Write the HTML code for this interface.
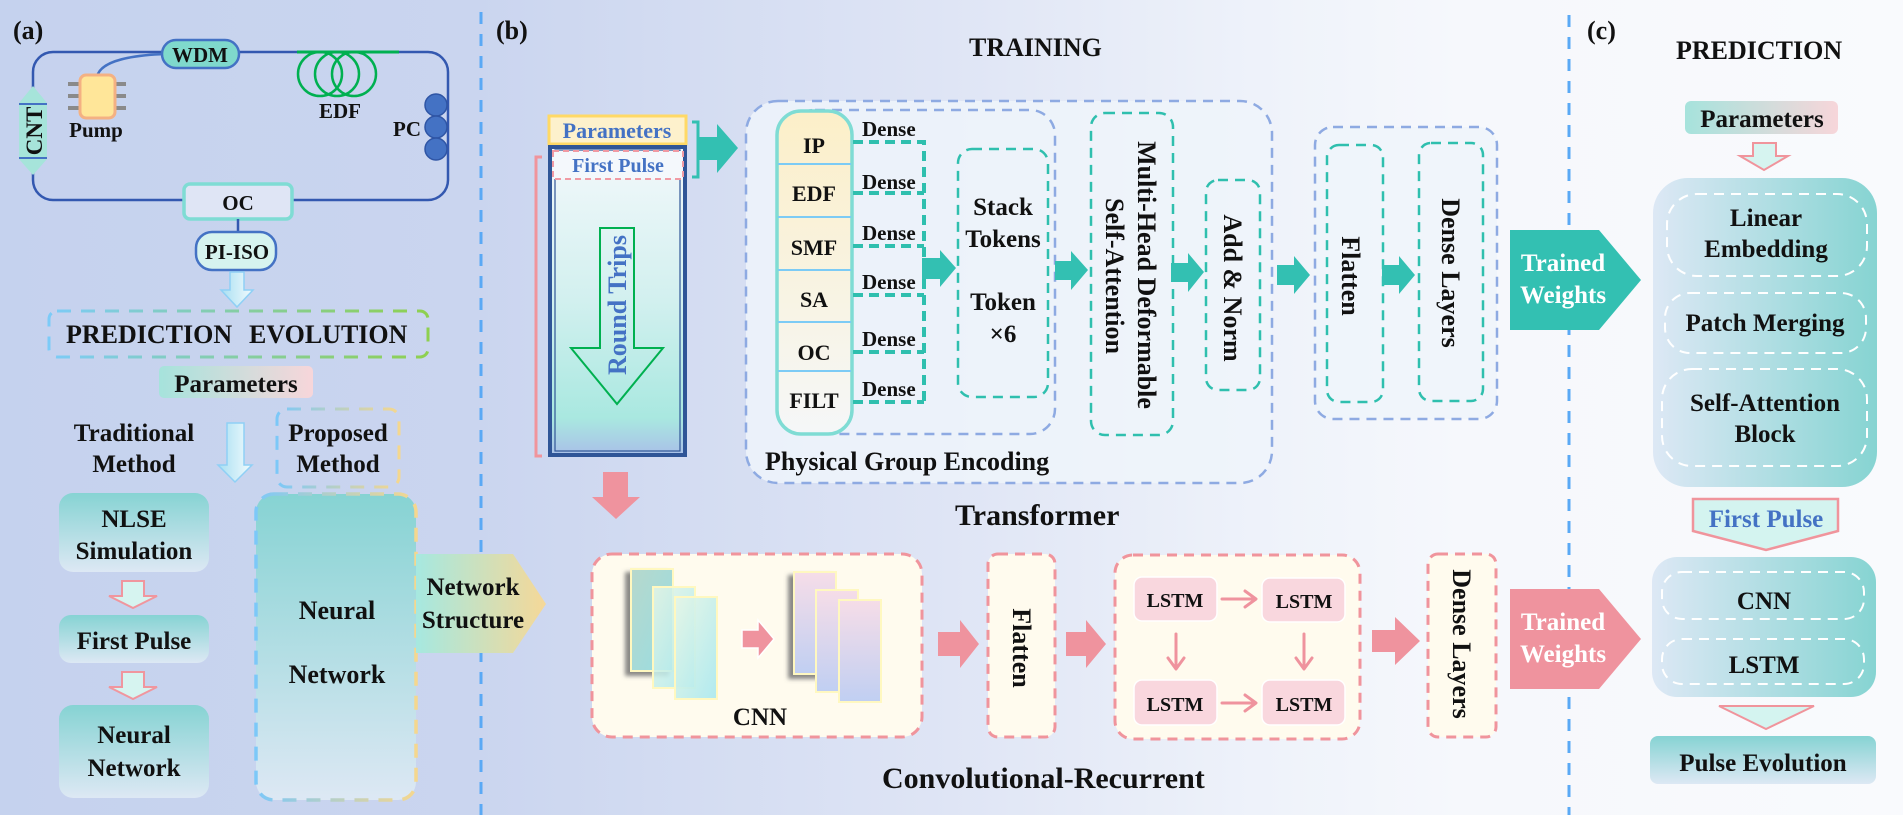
<!DOCTYPE html>
<html><head><meta charset="utf-8"><style>
html,body{margin:0;padding:0;width:1903px;height:815px;overflow:hidden;background:#dfe5f5;}
svg{display:block;}
text{font-family:"Liberation Serif","Times New Roman",serif;font-weight:bold;fill:#111;}
</style></head><body>
<svg width="1903" height="815" viewBox="0 0 1903 815" xmlns="http://www.w3.org/2000/svg">
<defs>
<linearGradient id="bg" x1="0" y1="0" x2="1" y2="0">
<stop offset="0" stop-color="#c5d2ee"/><stop offset="0.25" stop-color="#cad5ef"/><stop offset="0.5" stop-color="#dfe5f5"/><stop offset="0.66" stop-color="#eef2fa"/><stop offset="0.77" stop-color="#f6f8fc"/><stop offset="1" stop-color="#f9fafd"/>
</linearGradient>
<linearGradient id="tealV" x1="0" y1="0" x2="0" y2="1"><stop offset="0" stop-color="#86d3d3"/><stop offset="1" stop-color="#dde8f4"/></linearGradient>
<linearGradient id="tealH" x1="0" y1="0" x2="1" y2="0"><stop offset="0" stop-color="#dde8f5"/><stop offset="1" stop-color="#86d4d2"/></linearGradient>
<linearGradient id="paramG" x1="0" y1="0" x2="1" y2="0"><stop offset="0" stop-color="#a6e3dc"/><stop offset="1" stop-color="#f7d6da"/></linearGradient>
<linearGradient id="nsG" x1="0" y1="0" x2="1" y2="0"><stop offset="0" stop-color="#a6e8e0"/><stop offset="1" stop-color="#f5d898"/></linearGradient>
<linearGradient id="peStroke" x1="0" y1="0" x2="1" y2="0"><stop offset="0" stop-color="#7ccbf8"/><stop offset="1" stop-color="#8ed04f"/></linearGradient>
<linearGradient id="pmStroke" x1="0" y1="0" x2="1" y2="0"><stop offset="0" stop-color="#7cc8f8"/><stop offset="1" stop-color="#f5d78e"/></linearGradient>
<linearGradient id="downG" x1="0" y1="0" x2="1" y2="0"><stop offset="0" stop-color="#a8dff2"/><stop offset="1" stop-color="#f2fbfd"/></linearGradient>
<linearGradient id="colG" x1="0" y1="0" x2="0" y2="1"><stop offset="0" stop-color="#f3f8fb"/><stop offset="0.5" stop-color="#d2f0ef"/><stop offset="0.88" stop-color="#a9e8e0"/><stop offset="1" stop-color="#a9c0e8"/></linearGradient>
<linearGradient id="tokG" x1="0" y1="0" x2="0" y2="1"><stop offset="0" stop-color="#fcefc8"/><stop offset="1" stop-color="#f5f7f8"/></linearGradient>
<linearGradient id="fmA" x1="0" y1="0" x2="1" y2="1"><stop offset="0" stop-color="#b7d8cc"/><stop offset="1" stop-color="#98dde2"/></linearGradient>
<linearGradient id="fmB" x1="0" y1="0" x2="1" y2="1"><stop offset="0" stop-color="#e6f6e6"/><stop offset="1" stop-color="#a8e8ef"/></linearGradient>
<linearGradient id="fmC" x1="0" y1="0" x2="0" y2="1"><stop offset="0" stop-color="#f6dde8"/><stop offset="1" stop-color="#c0cff2"/></linearGradient>
<filter id="sh" x="-30%" y="-30%" width="160%" height="160%"><feDropShadow dx="-5" dy="4" stdDeviation="2" flood-color="#6b6b6b" flood-opacity="0.8"/></filter>
</defs>

<rect x="0" y="0" width="1903" height="815" fill="url(#bg)"/>

<!-- dividers -->
<line x1="481" y1="12" x2="481" y2="815" stroke="#5aa9f5" stroke-width="3" stroke-dasharray="12 10"/>
<line x1="1569" y1="15" x2="1569" y2="815" stroke="#5aa9f5" stroke-width="3" stroke-dasharray="12 10"/>

<!-- ================= PANEL A ================= -->
<text x="13" y="39" font-size="26">(a)</text>
<rect x="33" y="52" width="415" height="148" rx="20" fill="none" stroke="#3358b0" stroke-width="2.5"/>
<line x1="297" y1="52" x2="399" y2="52" stroke="#00b050" stroke-width="3"/>
<circle cx="320" cy="74" r="22" fill="none" stroke="#00b050" stroke-width="2.5"/>
<circle cx="337" cy="74" r="22" fill="none" stroke="#00b050" stroke-width="2.5"/>
<circle cx="354" cy="74" r="22" fill="none" stroke="#00b050" stroke-width="2.5"/>
<path d="M97 77 C100 60 135 55 166 54" fill="none" stroke="#4472c4" stroke-width="2.5"/>
<rect x="162" y="40" width="77" height="28" rx="14" fill="#7fd9cc" stroke="#4472c4" stroke-width="2.5"/>
<text x="200" y="62" font-size="21" text-anchor="middle">WDM</text>
<g fill="#8a8a8a">
<rect x="68" y="82" width="12" height="4"/><rect x="68" y="94" width="12" height="4"/><rect x="68" y="106" width="12" height="4"/>
<rect x="115" y="82" width="11" height="4"/><rect x="115" y="94" width="11" height="4"/><rect x="115" y="106" width="11" height="4"/>
</g>
<rect x="80" y="75" width="35" height="43" rx="6" fill="#ffe699" stroke="#f4b183" stroke-width="3"/>
<text x="96" y="137" font-size="21" text-anchor="middle">Pump</text>
<text x="340" y="118" font-size="21" text-anchor="middle">EDF</text>
<text x="421" y="136" font-size="21" text-anchor="end">PC</text>
<g fill="#4472c4" stroke="#2f55a5" stroke-width="1.5">
<circle cx="436" cy="105" r="11"/><circle cx="436" cy="127" r="11"/><circle cx="436" cy="149" r="11"/>
</g>
<polygon points="33,86 47,103 47,159 33,175 19,159 19,103" fill="#a6e4da"/>
<line x1="19" y1="104" x2="47" y2="104" stroke="#4472c4" stroke-width="2"/>
<line x1="19" y1="158" x2="47" y2="158" stroke="#4472c4" stroke-width="2"/>
<text transform="translate(42,131) rotate(-90)" font-size="23" text-anchor="middle">CNT</text>
<rect x="184" y="184" width="108" height="35" rx="6" fill="#dfe5f5" stroke="#7fdcd4" stroke-width="3.5"/>
<text x="238" y="210" font-size="21" text-anchor="middle">OC</text>
<line x1="238" y1="219" x2="238" y2="233" stroke="#3358b0" stroke-width="2.5"/>
<rect x="196" y="232" width="80" height="38" rx="16" fill="#d6f3ef" stroke="#4472c4" stroke-width="2.5"/>
<text x="237" y="259" font-size="21" text-anchor="middle">PI-ISO</text>
<polygon points="230,272 244,272 244,290 253,290 237,307 221,290 230,290" fill="url(#downG)" stroke="#8fd0f5" stroke-width="1.5"/>
<rect x="49" y="311" width="379" height="46" rx="8" fill="none" stroke="url(#peStroke)" stroke-width="3" stroke-dasharray="14 10"/>
<text x="66" y="343" font-size="26">PREDICTION</text>
<text x="249" y="343" font-size="26">EVOLUTION</text>
<rect x="159" y="366" width="154" height="32" rx="5" fill="url(#paramG)"/>
<text x="236" y="392" font-size="25" text-anchor="middle">Parameters</text>

<text x="134" y="441" font-size="25" text-anchor="middle">Traditional</text>
<text x="134" y="472" font-size="25" text-anchor="middle">Method</text>
<polygon points="227,423 244,423 244,465 252,465 235,482 218,465 227,465" fill="url(#downG)" stroke="#8fd0f5" stroke-width="1.5"/>
<rect x="277" y="409" width="122" height="78" rx="10" fill="none" stroke="url(#pmStroke)" stroke-width="3" stroke-dasharray="14 10"/>
<text x="338" y="441" font-size="25" text-anchor="middle">Proposed</text>
<text x="338" y="472" font-size="25" text-anchor="middle">Method</text>

<rect x="59" y="493" width="150" height="79" rx="14" fill="url(#tealV)"/>
<text x="134" y="527" font-size="25" text-anchor="middle">NLSE</text>
<text x="134" y="559" font-size="25" text-anchor="middle">Simulation</text>
<polygon points="122,581 144,581 144,596 157,596 133,608 109,596 122,596" fill="#d6f4f0" stroke="#f0969e" stroke-width="2"/>
<rect x="59" y="615" width="150" height="48" rx="12" fill="url(#tealV)"/>
<text x="134" y="649" font-size="25" text-anchor="middle">First Pulse</text>
<polygon points="122,672 144,672 144,687 157,687 133,699 109,687 122,687" fill="#d6f4f0" stroke="#f0969e" stroke-width="2"/>
<rect x="59" y="705" width="150" height="93" rx="14" fill="url(#tealV)"/>
<text x="134" y="743" font-size="25" text-anchor="middle">Neural</text>
<text x="134" y="776" font-size="25" text-anchor="middle">Network</text>

<rect x="256" y="494" width="160" height="306" rx="18" fill="url(#tealV)" stroke="url(#pmStroke)" stroke-width="3.5" stroke-dasharray="14 10"/>
<text x="337" y="619" font-size="26" text-anchor="middle">Neural</text>
<text x="337" y="683" font-size="26" text-anchor="middle">Network</text>
<polygon points="416,554 513,554 546,604 513,653 416,653" fill="url(#nsG)"/>
<text x="473" y="595" font-size="25" text-anchor="middle">Network</text>
<text x="473" y="628" font-size="25" text-anchor="middle">Structure</text>

<!-- ================= PANEL B ================= -->
<text x="496" y="39" font-size="26">(b)</text>
<text x="969" y="56" font-size="26">TRAINING</text>

<rect x="549" y="116" width="137" height="28" fill="#fdf1cc" stroke="#ffd966" stroke-width="3"/>
<text x="617" y="138" font-size="22" text-anchor="middle" style="fill:#4472c4">Parameters</text>
<rect x="550" y="147" width="135" height="308" fill="url(#colG)" stroke="#2f5597" stroke-width="4"/>
<rect x="555" y="150" width="125" height="301" fill="none" stroke="#2f5597" stroke-width="1.2"/>
<rect x="553" y="151" width="130" height="28" fill="#f4f8fc" stroke="#f09aa4" stroke-width="2" stroke-dasharray="6 4"/>
<text x="618" y="172" font-size="20" text-anchor="middle" style="fill:#4472c4">First Pulse</text>
<path d="M542 157 H536 V456 H542" fill="none" stroke="#f0949c" stroke-width="3"/>
<path d="M692 122 H698 V177 H692" fill="none" stroke="#33c0b2" stroke-width="3"/>
<polygon points="697,137 717,137 717,124 738,148 717,173 717,160 697,160" fill="#33c0b2"/>
<polygon points="600,228 634,228 634,348 663,348 617,404 571,348 600,348" fill="none" stroke="#00b050" stroke-width="2"/>
<text transform="translate(626,305) rotate(-90)" font-size="26" text-anchor="middle" style="fill:#4472c4">Round Trips</text>

<rect x="746" y="101" width="526" height="382" rx="32" fill="#eef4fa" fill-opacity="0.85" stroke="#8eaae2" stroke-width="2.5" stroke-dasharray="10 7"/>
<rect x="790" y="110" width="265" height="324" rx="25" fill="none" stroke="#8eaae2" stroke-width="2.5" stroke-dasharray="10 7"/>
<rect x="777" y="111" width="75" height="323" rx="24" fill="url(#tokG)" stroke="#7fdcd4" stroke-width="3.5"/>
<g stroke="#7ccbf5" stroke-width="2">
<line x1="778" y1="164" x2="851" y2="164"/><line x1="778" y1="217" x2="851" y2="217"/><line x1="778" y1="270" x2="851" y2="270"/><line x1="778" y1="322" x2="851" y2="322"/><line x1="778" y1="371" x2="851" y2="371"/>
</g>
<g font-size="22" text-anchor="middle">
<text x="814" y="153">IP</text><text x="814" y="201">EDF</text><text x="814" y="255">SMF</text><text x="814" y="307">SA</text><text x="814" y="360">OC</text><text x="814" y="408">FILT</text>
</g>
<g font-size="21">
<text x="862" y="136">Dense</text><text x="862" y="189">Dense</text><text x="862" y="240">Dense</text><text x="862" y="289">Dense</text><text x="862" y="346">Dense</text><text x="862" y="396">Dense</text>
</g>
<path d="M853 142 H924 V402 M853 193 H924 M853 246 H924 M853 295 H924 M853 352 H924 M853 402 H924" fill="none" stroke="#2fbfae" stroke-width="4" stroke-dasharray="10 6"/>
<polygon points="922,258 940,258 940,250 956,268 940,287 940,279 922,279" fill="#33c0b2"/>
<rect x="958" y="149" width="90" height="248" rx="14" fill="none" stroke="#2fbfae" stroke-width="2.5" stroke-dasharray="10 7"/>
<g font-size="25" text-anchor="middle">
<text x="1003" y="215">Stack</text><text x="1003" y="247">Tokens</text><text x="1003" y="310">Token</text><text x="1003" y="342">×6</text>
</g>
<polygon points="1055,261 1071,261 1071,251 1088,270 1071,290 1071,280 1055,280" fill="#33c0b2"/>
<rect x="1091" y="113" width="82" height="322" rx="14" fill="none" stroke="#2fbfae" stroke-width="2.5" stroke-dasharray="10 7"/>
<text transform="translate(1138,275) rotate(90)" font-size="26" text-anchor="middle">Multi-Head Deformable</text>
<text transform="translate(1106,276) rotate(90)" font-size="26" text-anchor="middle">Self-Attention</text>
<polygon points="1171,263 1188,263 1188,253 1204,272 1188,292 1188,282 1171,282" fill="#33c0b2"/>
<rect x="1206" y="180" width="54" height="210" rx="12" fill="none" stroke="#2fbfae" stroke-width="2.5" stroke-dasharray="10 7"/>
<text transform="translate(1224,288) rotate(90)" font-size="26" text-anchor="middle">Add &amp; Norm</text>
<polygon points="1277,265 1294,265 1294,256 1310,275 1294,294 1294,285 1277,285" fill="#33c0b2"/>
<rect x="1315" y="127" width="182" height="292" rx="18" fill="#eef4fa" fill-opacity="0.85" stroke="#8eaae2" stroke-width="2.5" stroke-dasharray="10 7"/>
<rect x="1327" y="145" width="56" height="257" rx="12" fill="none" stroke="#2fbfae" stroke-width="2.5" stroke-dasharray="10 7"/>
<text transform="translate(1342,276) rotate(90)" font-size="26" text-anchor="middle">Flatten</text>
<polygon points="1382,265 1399,265 1399,256 1415,275 1399,294 1399,285 1382,285" fill="#33c0b2"/>
<rect x="1419" y="143" width="64" height="258" rx="12" fill="none" stroke="#2fbfae" stroke-width="2.5" stroke-dasharray="10 7"/>
<text transform="translate(1442,273) rotate(90)" font-size="26" text-anchor="middle">Dense Layers</text>
<polygon points="1510,230 1599,230 1641,280 1599,330 1510,330" fill="#33c0b2"/>
<text x="1563" y="271" font-size="25" text-anchor="middle" style="fill:#ffffff">Trained</text>
<text x="1563" y="303" font-size="25" text-anchor="middle" style="fill:#ffffff">Weights</text>

<text x="765" y="470" font-size="26">Physical Group Encoding</text>
<text x="955" y="525" font-size="30">Transformer</text>

<polygon points="603,472 628,472 628,497 640,497 616,519 592,497 603,497" fill="#ef939e"/>
<rect x="592" y="554" width="330" height="183" rx="20" fill="#fffbee" stroke="#f0949c" stroke-width="3" stroke-dasharray="10 7"/>
<rect x="631" y="569" width="42" height="102" fill="url(#fmA)" stroke="#fff8c0" stroke-width="2" filter="url(#sh)"/>
<rect x="653" y="587" width="42" height="101" fill="url(#fmB)" fill-opacity="0.85" stroke="#fff8c0" stroke-width="2"/>
<rect x="675" y="597" width="42" height="102" fill="url(#fmB)" fill-opacity="0.9" stroke="#fff8c0" stroke-width="2"/>
<polygon points="742,630 758,630 758,620 774,639 758,658 758,648 742,648" fill="#ef939e" stroke="#ffffff" stroke-width="1.5"/>
<rect x="794" y="572" width="42" height="102" fill="url(#fmC)" stroke="#fff8c0" stroke-width="2" filter="url(#sh)"/>
<rect x="816" y="590" width="42" height="102" fill="url(#fmC)" stroke="#fff8c0" stroke-width="2"/>
<rect x="839" y="600" width="42" height="102" fill="url(#fmC)" stroke="#fff8c0" stroke-width="2"/>
<text x="760" y="725" font-size="25" text-anchor="middle">CNN</text>
<polygon points="938,632 960,632 960,620 979,644 960,668 960,656 938,656" fill="#ef939e"/>
<rect x="988" y="554" width="67" height="183" rx="10" fill="#fffbee" stroke="#f0949c" stroke-width="3" stroke-dasharray="10 7"/>
<text transform="translate(1013,648) rotate(90)" font-size="26" text-anchor="middle">Flatten</text>
<polygon points="1066,632 1086,632 1086,620 1106,644 1086,668 1086,656 1066,656" fill="#ef939e"/>
<rect x="1115" y="555" width="245" height="184" rx="18" fill="#fffbee" stroke="#f0949c" stroke-width="3" stroke-dasharray="10 7"/>
<g fill="#f9d7de" stroke="#ffffff" stroke-width="1.5">
<rect x="1134" y="577" width="83" height="44" rx="8"/><rect x="1262" y="578" width="83" height="44" rx="8"/>
<rect x="1134" y="680" width="83" height="45" rx="8"/><rect x="1262" y="680" width="83" height="45" rx="8"/>
</g>
<g font-size="20" text-anchor="middle">
<text x="1175" y="607">LSTM</text><text x="1304" y="608">LSTM</text><text x="1175" y="711">LSTM</text><text x="1304" y="711">LSTM</text>
</g>
<g fill="none" stroke="#ef939e" stroke-width="3" stroke-linecap="round" stroke-linejoin="round">
<path d="M1222 599 H1255 M1245 591 L1256 599 L1245 607"/>
<path d="M1222 703 H1255 M1245 695 L1256 703 L1245 711"/>
<path d="M1176 634 V668 M1168 658 L1176 669 L1184 658"/>
<path d="M1304 634 V668 M1296 658 L1304 669 L1312 658"/>
</g>
<polygon points="1372,630 1395,630 1395,617 1420,641 1395,665 1395,652 1372,652" fill="#ef939e"/>
<rect x="1428" y="554" width="68" height="183" rx="10" fill="#fffbee" stroke="#f0949c" stroke-width="3" stroke-dasharray="10 7"/>
<text transform="translate(1453,644) rotate(90)" font-size="26" text-anchor="middle">Dense Layers</text>
<polygon points="1510,589 1599,589 1641,639 1599,689 1510,689" fill="#ef939e"/>
<text x="1563" y="630" font-size="25" text-anchor="middle" style="fill:#ffffff">Trained</text>
<text x="1563" y="662" font-size="25" text-anchor="middle" style="fill:#ffffff">Weights</text>
<text x="882" y="788" font-size="30">Convolutional-Recurrent</text>

<!-- ================= PANEL C ================= -->
<text x="1587" y="39" font-size="26">(c)</text>
<text x="1676" y="59" font-size="26">PREDICTION</text>
<rect x="1685" y="101" width="153" height="33" rx="6" fill="url(#paramG)"/>
<text x="1762" y="127" font-size="25" text-anchor="middle">Parameters</text>
<polygon points="1753,143 1776,143 1776,156 1788,156 1764,170 1740,156 1753,156" fill="#d6f4f0" stroke="#f0949c" stroke-width="2"/>
<rect x="1653" y="178" width="224" height="309" rx="35" fill="url(#tealH)"/>
<g fill="none" stroke="#ffffff" stroke-width="2" stroke-dasharray="10 7">
<rect x="1667" y="194" width="200" height="82" rx="30"/>
<rect x="1665" y="293" width="201" height="60" rx="25"/>
<rect x="1662" y="369" width="205" height="97" rx="30"/>
</g>
<g font-size="25" text-anchor="middle">
<text x="1766" y="226">Linear</text><text x="1766" y="257">Embedding</text>
<text x="1765" y="331">Patch Merging</text>
<text x="1765" y="411">Self-Attention</text><text x="1765" y="442">Block</text>
</g>
<polygon points="1693,499 1838,499 1838,531 1766,550 1693,531" fill="#d4f4f0" stroke="#f0949c" stroke-width="2.5"/>
<text x="1766" y="527" font-size="25" text-anchor="middle" style="fill:#4472c4">First Pulse</text>
<rect x="1652" y="557" width="224" height="140" rx="25" fill="url(#tealH)"/>
<g fill="none" stroke="#ffffff" stroke-width="2" stroke-dasharray="10 7">
<rect x="1662" y="572" width="202" height="47" rx="20"/>
<rect x="1662" y="639" width="202" height="45" rx="20"/>
</g>
<text x="1764" y="609" font-size="25" text-anchor="middle">CNN</text>
<text x="1764" y="673" font-size="25" text-anchor="middle">LSTM</text>
<polygon points="1719,706 1814,706 1766,729" fill="#d4f4f0" stroke="#f0949c" stroke-width="2"/>
<rect x="1650" y="736" width="226" height="48" rx="8" fill="url(#tealV)"/>
<text x="1763" y="771" font-size="25" text-anchor="middle">Pulse Evolution</text>
</svg>
</body></html>
